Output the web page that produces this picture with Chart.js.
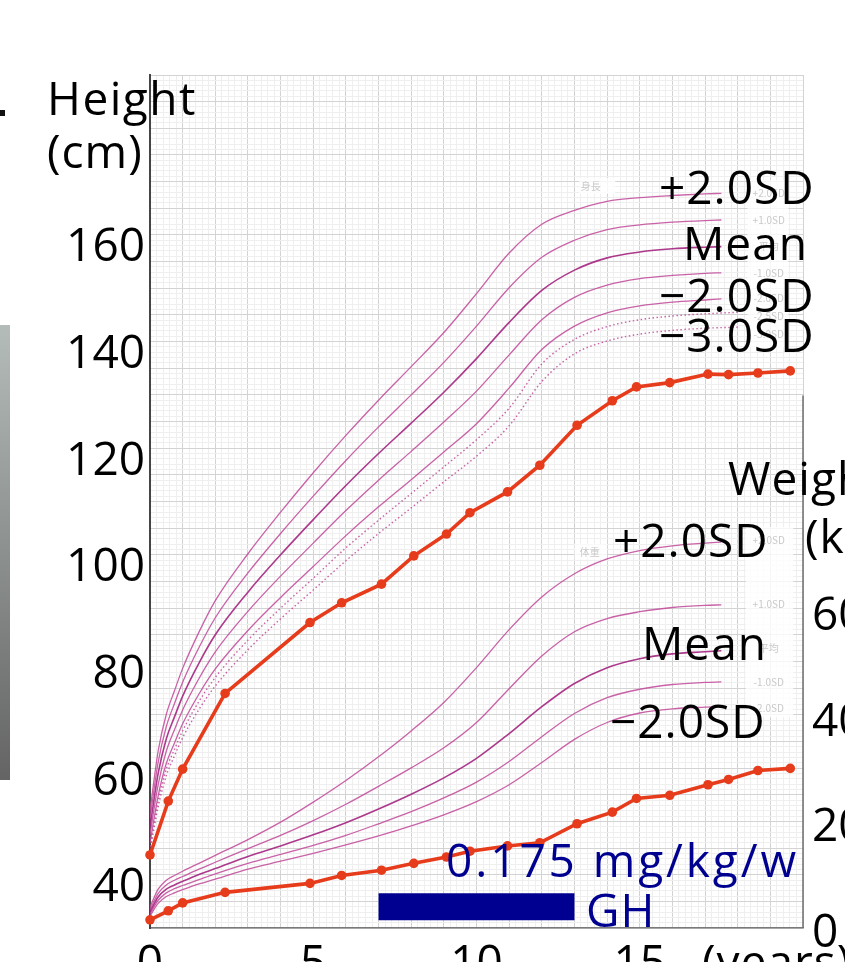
<!DOCTYPE html>
<html><head><meta charset="utf-8">
<script src="https://cdn.jsdelivr.net/npm/chart.js@4.4.1/dist/chart.umd.min.js"></script>
<style>
html,body{margin:0;padding:0;background:#fff;width:845px;height:962px;overflow:hidden;}
#wrap{position:relative;width:845px;height:962px;overflow:hidden;background:#fff;}
canvas{position:absolute;left:0;top:0;}
.t{position:absolute;font-family:'Open Sans',sans-serif;font-size:46px;line-height:46px;white-space:nowrap;color:#000;letter-spacing:1px;}
.blue{color:#000090;}
#side{position:absolute;left:0;top:325px;width:10px;height:455px;background:linear-gradient(#b4bcba,#646464);}
#dot{position:absolute;left:0;top:110px;width:5px;height:6px;background:#111;}
</style></head><body>
<div id="wrap">
<canvas id="c" width="900" height="1010"></canvas>
<div id="side"></div><div id="dot"></div>
<div class="t" style="left:47px;top:74px;letter-spacing:1.5px">Height</div>
<div class="t" style="left:47px;top:127px">(cm)</div>
<div class="t" style="left:728px;top:454px">Weight</div>
<div class="t" style="left:805px;top:512px">(kg)</div>
<div class="t" style="left:702px;top:937px">(years)</div>
<div class="t" style="left:659px;top:163px">+2.0SD</div>
<div class="t" style="left:683px;top:219px">Mean</div>
<div class="t" style="left:659px;top:271px">&minus;2.0SD</div>
<div class="t" style="left:659px;top:311px">&minus;3.0SD</div>
<div class="t" style="left:613px;top:516px">+2.0SD</div>
<div class="t" style="left:642px;top:619px">Mean</div>
<div class="t" style="left:610px;top:697px">&minus;2.0SD</div>
<div class="t blue" style="left:446px;top:836px;letter-spacing:2.9px">0.175 mg/kg/w</div>
<div class="t blue" style="left:586px;top:886px">GH</div>
</div>
<script>
// ---------- data (in the units of the printed tick labels) ----------
const X_TICKS = [0, 5, 10, 15];
const HEIGHT_TICKS = [40, 60, 80, 100, 120, 140, 160];
const WEIGHT_TICKS = [0, 20, 40, 60];

const STD_AGES = [0, 0.25, 0.5, 0.75, 1, 1.5, 2, 3, 4, 5, 6, 7, 8, 9, 10, 11, 12, 13, 14, 15, 16, 17, 17.5];
const HEIGHT_P2SD = [54.5, 65.7, 72.6, 77.0, 81.2, 88.0, 93.9, 102.7, 110.5, 117.9, 124.9, 131.5, 137.8, 144.2, 151.5, 159.1, 164.5, 167.1, 168.8, 169.5, 169.9, 170.2, 170.3];
const HEIGHT_P1SD = [53.0, 63.6, 70.3, 74.6, 78.6, 85.1, 90.7, 99.1, 106.5, 113.5, 120.2, 126.5, 132.5, 138.6, 145.4, 152.6, 158.3, 161.5, 163.5, 164.4, 164.9, 165.2, 165.3];
const HEIGHT_MEAN = [51.5, 61.5, 68.0, 72.1, 76.0, 82.2, 87.5, 95.5, 102.5, 109.1, 115.5, 121.5, 127.2, 133.0, 139.3, 146.1, 152.1, 155.9, 158.2, 159.3, 159.9, 160.2, 160.3];
const HEIGHT_M1SD = [50.0, 59.4, 65.7, 69.7, 73.4, 79.3, 84.3, 91.9, 98.5, 104.7, 110.8, 116.5, 121.9, 127.4, 133.2, 140.0, 146.6, 150.8, 153.1, 154.3, 154.9, 155.3, 155.4];
const HEIGHT_M2SD = [48.5, 57.3, 63.4, 67.2, 70.8, 76.4, 81.1, 88.3, 94.5, 100.3, 106.1, 111.5, 116.6, 121.8, 127.1, 133.8, 141.0, 145.4, 147.9, 149.2, 149.9, 150.3, 150.5];

const DOTTED_AGES = [0, 0.25, 0.5, 0.75, 1, 1.5, 2, 3, 4, 5, 6, 7, 8, 9, 10, 11, 12, 13, 14, 15, 16, 17, 18];
const HEIGHT_M25SD = [47.8, 56.3, 62.3, 66.0, 69.5, 75.0, 79.5, 86.5, 92.5, 98.1, 103.8, 109.0, 114.0, 119.0, 124.1, 130.0, 138.3, 142.9, 145.3, 146.6, 147.3, 147.7, 148.0];
const HEIGHT_M3SD = [47.0, 55.2, 61.1, 64.8, 68.2, 73.5, 77.9, 84.7, 90.5, 95.9, 101.4, 106.5, 111.3, 116.2, 121.0, 126.7, 135.0, 140.2, 142.6, 143.9, 144.6, 145.0, 145.2];

const WEIGHT_P2SD = [5.0, 8.4, 10.1, 11.0, 11.8, 13.3, 14.8, 17.8, 21.1, 24.9, 29.0, 33.5, 38.4, 43.8, 50.4, 57.6, 63.8, 68.2, 71.0, 72.6, 73.5, 74.0, 74.2];
const WEIGHT_P1SD = [4.5, 7.6, 9.2, 10.1, 10.8, 12.2, 13.5, 16.1, 18.6, 21.4, 24.5, 27.9, 31.4, 35.2, 40.0, 46.4, 52.6, 57.2, 59.7, 61.0, 61.8, 62.2, 62.3];
const WEIGHT_MEAN = [4.1, 6.9, 8.4, 9.2, 9.9, 11.2, 12.3, 14.6, 16.6, 18.7, 21.0, 23.6, 26.4, 29.5, 33.2, 37.9, 43.0, 47.4, 50.4, 52.1, 53.0, 53.4, 53.6];
const WEIGHT_M1SD = [3.7, 6.3, 7.7, 8.5, 9.1, 10.2, 11.3, 13.3, 15.0, 16.7, 18.6, 20.8, 23.1, 25.7, 28.7, 32.6, 37.3, 41.7, 44.7, 46.3, 47.2, 47.6, 47.7];
const WEIGHT_M2SD = [3.3, 5.7, 7.0, 7.7, 8.3, 9.4, 10.3, 12.2, 13.7, 15.2, 16.8, 18.5, 20.4, 22.5, 25.0, 28.2, 32.4, 36.8, 40.0, 41.8, 42.6, 42.9, 43.0];

const PATIENT_AGES = [0, 0.56, 1.0, 2.3, 4.9, 5.87, 7.09, 8.08, 9.08, 9.8, 10.95, 11.94, 13.08, 14.16, 14.9, 15.92, 17.09, 17.72, 18.62, 19.61];
const PATIENT_HEIGHT = [46.2, 56.3, 62.3, 76.5, 89.8, 93.5, 97.0, 102.3, 106.4, 110.4, 114.3, 119.3, 126.8, 131.4, 134.0, 134.8, 136.4, 136.3, 136.6, 137.0];
const PATIENT_WEIGHT = [2.6, 4.3, 5.8, 7.8, 9.5, 11.0, 12.0, 13.3, 14.5, 15.6, 16.6, 17.2, 20.8, 23.0, 25.6, 26.2, 28.2, 29.2, 30.9, 31.3];

const GH_PERIOD = [7, 13];           // years of GH treatment

// ---------- layout / style ----------
const CW = 900, CH = 1010;
const AREA = { left: 150, right: 803, top: 75, bottom: 928 };
const GH_BAR_LEVEL = 36.5, GH_BAR_THICK = 27;
const PINK = 'rgba(194,76,155,0.88)', PINK_DARK = 'rgba(165,40,130,0.92)';
const RED = '#e63c1c', NAVY = '#000090';
const GRID_MAJOR = '#d3d3d3', GRID_MINOR = '#efefef';

const pts = (xs, ys) => xs.map((v, i) => ({ x: v, y: ys[i] }));
const curve = (xs, ys, axis, color, width, dash) => ({
  data: pts(xs, ys), yAxisID: axis, xAxisID: 'x', borderColor: color, borderWidth: width,
  borderDash: dash || [], pointRadius: 0, cubicInterpolationMode: 'monotone', fill: false
});
const seq = (a, b, n) => Array.from({ length: n + 1 }, (_, i) => ({ value: a + (b - a) * i / n }));

const decor = {
  id: 'decor',
  beforeDatasetsDraw(chart) {
    const { ctx, scales: { x, y, w } } = chart;
    ctx.save();
    ctx.fillStyle = 'rgba(255,255,255,0.8)';
    const boxY = (x0, x1, v0, v1, s) => {
      const a = x.getPixelForValue(x0), b = x.getPixelForValue(x1);
      const c = s.getPixelForValue(v0), d = s.getPixelForValue(v1);
      ctx.fillRect(a, c, b - a, d - c);
    };
    boxY(18.3, 19.55, 172.8, 141.4, y);
    boxY(18.25, 19.7, 77.1, 41.0, w);
    boxY(13.15, 14.25, 173.2, 170.2, y);
    boxY(13.0, 14.0, 73.8, 70.9, w);
    ctx.fillStyle = '#c9c9c9';
    ctx.font = "10px 'Noto Sans CJK JP'";
    ctx.textAlign = 'center'; ctx.textBaseline = 'middle';
    const lbl = (t, xv, v, s) => ctx.fillText(t, x.getPixelForValue(xv), s.getPixelForValue(v));
    lbl('身長', 13.5, 171.6, y);
    [['+2.0SD', 170.3], ['+1.0SD', 165.25], ['平均', 160.4], ['-1.0SD', 155.3], ['-2.0SD', 150.6], ['-2.5SD', 147.25], ['-3.0SD', 143.9]]
      .forEach(([t, v]) => lbl(t, 18.95, v, y));
    lbl('体重', 13.47, 72.3, w);
    [['+2.0SD', 74.6], ['+1.0SD', 62.5], ['平均', 54.0], ['-1.0SD', 47.7], ['-2.0SD', 42.75]]
      .forEach(([t, v]) => lbl(t, 18.95, v, w));
    ctx.restore();
  },
  afterDatasetsDraw(chart) {
    const { ctx, scales: { x, y }, chartArea } = chart;
    ctx.save();
    ctx.strokeStyle = '#6e6e6e'; ctx.lineWidth = 1.5;
    ctx.beginPath();
    const px = x.getPixelForValue(20);
    ctx.moveTo(px, y.getPixelForValue(132.4));
    ctx.lineTo(px, chartArea.bottom);
    ctx.stroke();
    ctx.restore();
  }
};

Chart.defaults.font.family = "'Open Sans', sans-serif";
Chart.defaults.color = '#000';

new Chart(document.getElementById('c'), {
  type: 'line',
  data: {
    datasets: [
      { data: pts(GH_PERIOD, [GH_BAR_LEVEL, GH_BAR_LEVEL]), xAxisID: 'x', yAxisID: 'y', borderColor: NAVY,
        borderWidth: GH_BAR_THICK, borderCapStyle: 'butt', pointRadius: 0, clip: false },
      { data: pts(PATIENT_AGES, PATIENT_HEIGHT), xAxisID: 'x', yAxisID: 'y', borderColor: RED, backgroundColor: RED,
        borderWidth: 3.6, pointRadius: 4.8, pointBorderWidth: 0, tension: 0, clip: false },
      { data: pts(PATIENT_AGES, PATIENT_WEIGHT), xAxisID: 'x', yAxisID: 'w', borderColor: RED, backgroundColor: RED,
        borderWidth: 3.6, pointRadius: 4.8, pointBorderWidth: 0, tension: 0, clip: false },
      curve(STD_AGES, HEIGHT_P2SD, 'y', PINK, 1.3),
      curve(STD_AGES, HEIGHT_P1SD, 'y', PINK, 1.3),
      curve(STD_AGES, HEIGHT_MEAN, 'y', PINK_DARK, 1.6),
      curve(STD_AGES, HEIGHT_M1SD, 'y', PINK, 1.3),
      curve(STD_AGES, HEIGHT_M2SD, 'y', PINK, 1.3),
      curve(DOTTED_AGES, HEIGHT_M25SD, 'y', PINK, 1.4, [1.5, 2.5]),
      curve(DOTTED_AGES, HEIGHT_M3SD, 'y', PINK, 1.4, [1.5, 2.5]),
      curve(STD_AGES, WEIGHT_P2SD, 'w', PINK, 1.3),
      curve(STD_AGES, WEIGHT_P1SD, 'w', PINK, 1.3),
      curve(STD_AGES, WEIGHT_MEAN, 'w', PINK_DARK, 1.6),
      curve(STD_AGES, WEIGHT_M1SD, 'w', PINK, 1.3),
      curve(STD_AGES, WEIGHT_M2SD, 'w', PINK, 1.3)
    ]
  },
  options: {
    responsive: false, animation: false, devicePixelRatio: 1, events: [],
    layout: { padding: { top: AREA.top, left: 0, right: 0, bottom: 0 } },
    plugins: { legend: { display: false }, tooltip: { enabled: false } },
    scales: {
      x: {
        type: 'linear', position: 'bottom', min: 0, max: 20,
        afterBuildTicks: s => { s.ticks = X_TICKS.map(v => ({ value: v })); },
        ticks: { font: { size: 46 }, color: '#000', padding: 9, maxRotation: 0, autoSkip: false },
        grid: { display: false, drawTicks: false },
        border: { display: true, color: '#7a7a7a', width: 1.5 },
        afterFit: s => { s.height = CH - AREA.bottom; }
      },
      xg: {
        type: 'linear', position: 'top', min: 0, max: 20,
        afterBuildTicks: s => { s.ticks = seq(0, 20, 100); },
        ticks: { display: false },
        grid: { drawTicks: false, lineWidth: 1,
          color: c => (Math.abs(c.tick.value - Math.round(c.tick.value)) < 1e-6 ? GRID_MAJOR : GRID_MINOR) },
        border: { display: false },
        afterFit: s => { s.height = 0; }
      },
      y: {
        type: 'linear', position: 'left', min: 32.5, max: 192.5,
        afterBuildTicks: s => { s.ticks = HEIGHT_TICKS.map(v => ({ value: v })); },
        ticks: { font: { size: 46 }, color: '#000', padding: 5 },
        grid: { display: false, drawTicks: false },
        border: { display: true, color: '#454545', width: 2 },
        afterFit: s => { s.width = AREA.left; }
      },
      g: {
        type: 'linear', position: 'left', min: 0, max: 160,
        afterBuildTicks: s => { s.ticks = seq(0, 160, 160); },
        ticks: { display: false },
        grid: { drawTicks: false, lineWidth: 1,
          color: c => (Math.round(c.tick.value) % 5 === 0 ? GRID_MAJOR : GRID_MINOR) },
        border: { display: false },
        afterFit: s => { s.width = 0; }
      },
      w: {
        type: 'linear', position: 'right', min: 1.04, max: 162.75,
        afterBuildTicks: s => { s.ticks = WEIGHT_TICKS.map(v => ({ value: v })); },
        ticks: { font: { size: 46 }, color: '#000', padding: 9 },
        grid: { display: false, drawTicks: false },
        border: { display: false },
        afterFit: s => { s.width = CW - AREA.right; }
      }
    }
  },
  plugins: [decor]
});
</script>
</body></html>
